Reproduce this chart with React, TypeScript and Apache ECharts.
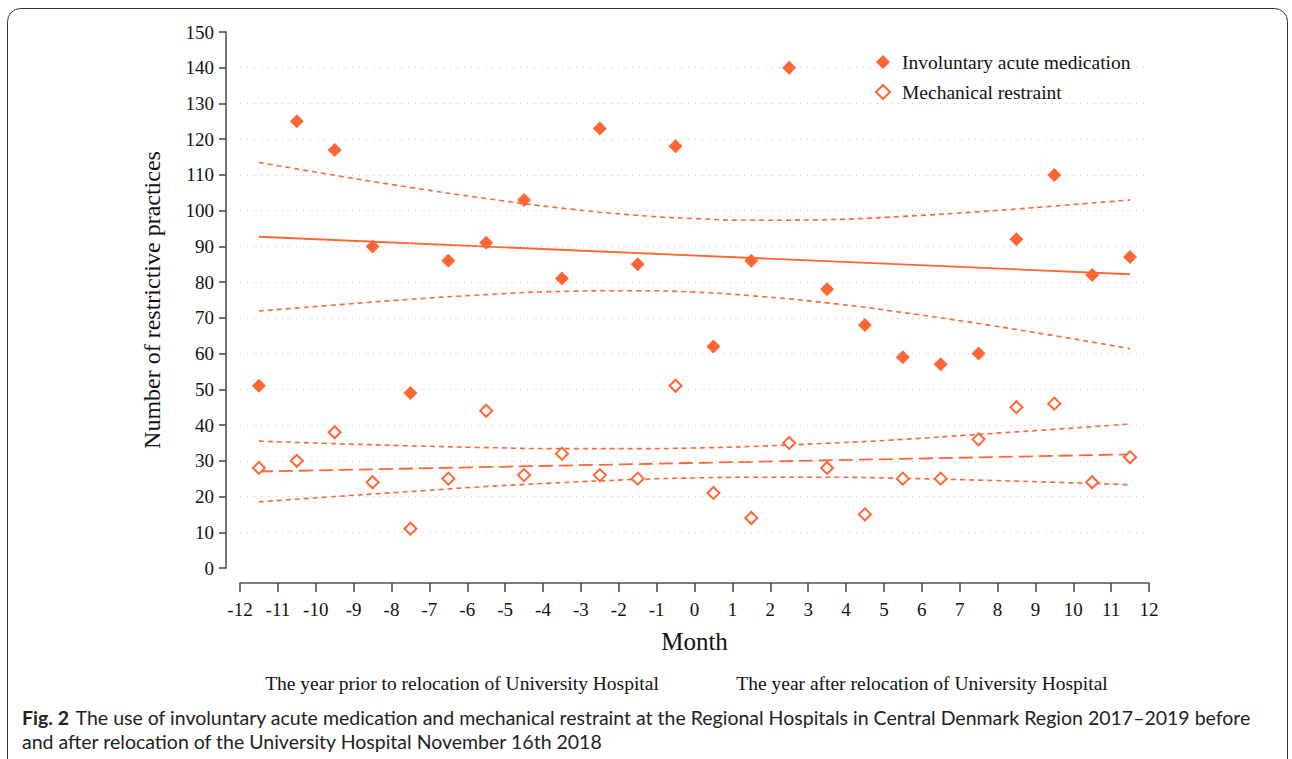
import React, { useEffect, useRef } from "react";
import * as echarts from "echarts";

const months = [-11.5, -10.5, -9.5, -8.5, -7.5, -6.5, -5.5, -4.5, -3.5, -2.5, -1.5, -0.5, 0.5, 1.5, 2.5, 3.5, 4.5, 5.5, 6.5, 7.5, 8.5, 9.5, 10.5, 11.5];
const medication = [51, 125, 117, 90, 49, 86, 91, 103, 81, 123, 85, 118, 62, 86, 140, 78, 68, 59, 57, 60, 92, 110, 82, 87];
const restraint = [28, 30, 38, 24, 11, 25, 44, 26, 32, 26, 25, 51, 21, 14, 35, 28, 15, 25, 25, 36, 45, 46, 24, 31];

const fitX = [-11.5, 11.5];
const medFit = [92.7, 82.2];
const resFit = [27.0, 31.8];

const ciX = [-11.5, -9.5, -7.5, -5.5, -3.5, -1.5, 0, 1.5, 3.5, 5.5, 7.5, 9.5, 11.5];
const medUpper = [113.5, 109.9, 106.5, 103.4, 100.7, 98.7, 97.8, 97.3, 97.5, 98.4, 99.7, 101.3, 103.0];
const medLower = [71.9, 73.6, 75.2, 76.5, 77.4, 77.6, 77.2, 76.2, 74.2, 71.5, 68.4, 65.0, 61.4];
const resUpper = [35.5, 34.8, 34.2, 33.7, 33.4, 33.4, 33.6, 34.0, 34.9, 36.0, 37.4, 38.8, 40.3];
const resLower = [18.5, 20.0, 21.4, 22.8, 23.9, 24.8, 25.2, 25.4, 25.4, 25.1, 24.6, 24.0, 23.3];

const gridValues = [10, 20, 30, 40, 50, 60, 70, 80, 90, 100, 110, 120, 130, 140];

const seriesNames = ["Involuntary acute medication", "Mechanical restraint"];
const periodLabels = ["The year prior to relocation of University Hospital", "The year after relocation of University Hospital"];
const captionBold = "Fig. 2";
const captionLine1 = "The use of involuntary acute medication and mechanical restraint at the Regional Hospitals in Central Denmark Region 2017–2019 before";
const captionLine2 = "and after relocation of the University Hospital November 16th 2018";

const ORANGE = "#FF6633";
const SERIF = "'Liberation Serif', 'DejaVu Serif', serif";
const SANS = "Lato, 'Open Sans', sans-serif";

const pair = (xs: number[], ys: number[]) => xs.map((x, i) => [x, ys[i]]);

export default function App() {
  const ref = useRef<HTMLDivElement>(null);
  useEffect(() => {
    document.body.style.margin = "0";
    const chart = echarts.init(ref.current!, null, { renderer: "svg" });
    const dashShort = { color: ORANGE, width: 1.6, type: [5, 4] as any };
    const option: any = {
      animation: false,
      backgroundColor: "#fff",
      textStyle: { fontFamily: SERIF },
      grid: { left: 240, right: 143, top: 32, bottom: 191 },
      legend: {
        orient: "vertical",
        left: 875,
        top: 52,
        itemWidth: 14,
        itemHeight: 14,
        itemGap: 10,
        padding: 0,
        data: seriesNames,
        textStyle: { fontFamily: SERIF, fontSize: 19.5, color: "#111", padding: [0, 0, 0, 7] },
      },
      xAxis: {
        type: "value",
        min: -12,
        max: 12,
        interval: 1,
        offset: 15,
        name: "Month",
        nameLocation: "middle",
        nameGap: 46,
        nameTextStyle: { fontFamily: SERIF, fontSize: 25, color: "#111" },
        axisLine: { onZero: false, lineStyle: { color: "#555", width: 1.5 } },
        axisTick: { length: 9, lineStyle: { color: "#444", width: 1.5 } },
        axisLabel: { margin: 17, fontFamily: SERIF, fontSize: 19, color: "#111" },
        splitLine: { show: false },
      },
      yAxis: {
        type: "value",
        min: 0,
        max: 150,
        interval: 10,
        offset: 14,
        name: "Number of restrictive practices",
        nameLocation: "middle",
        nameRotate: 90,
        nameGap: 62,
        nameTextStyle: { fontFamily: SERIF, fontSize: 24, color: "#111" },
        axisLine: { show: true, onZero: false, lineStyle: { color: "#444", width: 1.5 } },
        axisTick: { show: true, length: 7, lineStyle: { color: "#444", width: 1.5 } },
        axisLabel: { margin: 12, fontFamily: SERIF, fontSize: 19, color: "#111" },
        splitLine: { show: false },
      },
      series: [
        {
          name: "grid",
          type: "line",
          data: [],
          silent: true,
          markLine: {
            silent: true,
            symbol: "none",
            label: { show: false },
            lineStyle: { color: "#c4c4c4", width: 1, type: [1, 6] },
            data: gridValues.map((v) => ({ yAxis: v })),
          },
        },
        { type: "line", data: pair(ciX, medUpper), smooth: true, showSymbol: false, lineStyle: dashShort, z: 3 },
        { type: "line", data: pair(ciX, medLower), smooth: true, showSymbol: false, lineStyle: dashShort, z: 3 },
        { type: "line", data: pair(fitX, medFit), showSymbol: false, lineStyle: { color: ORANGE, width: 1.8, type: "solid" }, z: 3 },
        { type: "line", data: pair(ciX, resUpper), smooth: true, showSymbol: false, lineStyle: dashShort, z: 3 },
        { type: "line", data: pair(ciX, resLower), smooth: true, showSymbol: false, lineStyle: dashShort, z: 3 },
        { type: "line", data: pair(fitX, resFit), showSymbol: false, lineStyle: { color: ORANGE, width: 1.8, type: [14, 6] }, z: 3 },
        {
          name: seriesNames[0],
          type: "scatter",
          data: pair(months, medication),
          symbol: "diamond",
          symbolSize: 14,
          itemStyle: { color: ORANGE, opacity: 1 },
          z: 5,
        },
        {
          name: seriesNames[1],
          type: "scatter",
          data: pair(months, restraint),
          symbol: "diamond",
          symbolSize: 12,
          itemStyle: { color: "#fff", borderColor: ORANGE, borderWidth: 2, opacity: 1 },
          z: 5,
        },
      ],
      graphic: [
        {
          type: "rect",
          shape: { x: 7.5, y: 8.5, width: 1280, height: 820, r: 13 },
          style: { fill: "none", stroke: "#333", lineWidth: 1 },
          silent: true,
        },
        {
          type: "text",
          x: 462,
          y: 683,
          style: { text: periodLabels[0], font: `19.5px ${SERIF}`, fill: "#111", align: "center", verticalAlign: "middle" },
        },
        {
          type: "text",
          x: 922,
          y: 683,
          style: { text: periodLabels[1], font: `19.5px ${SERIF}`, fill: "#111", align: "center", verticalAlign: "middle" },
        },
        {
          type: "text",
          x: 22,
          y: 717,
          style: {
            text: `{b|${captionBold}}  {n|${captionLine1}}`,
            verticalAlign: "middle",
            rich: {
              b: { font: `bold 19.5px ${SANS}`, fill: "#222" },
              n: { font: `19.5px ${SANS}`, fill: "#222" },
            },
          },
        },
        {
          type: "text",
          x: 22,
          y: 741,
          style: { text: captionLine2, font: `19.5px ${SANS}`, fill: "#222", verticalAlign: "middle" },
        },
      ],
    };
    chart.setOption(option);
    return () => chart.dispose();
  }, []);
  return <div ref={ref} style={{ position: "absolute", left: 0, top: 0, width: 1292, height: 759 }} />;
}
